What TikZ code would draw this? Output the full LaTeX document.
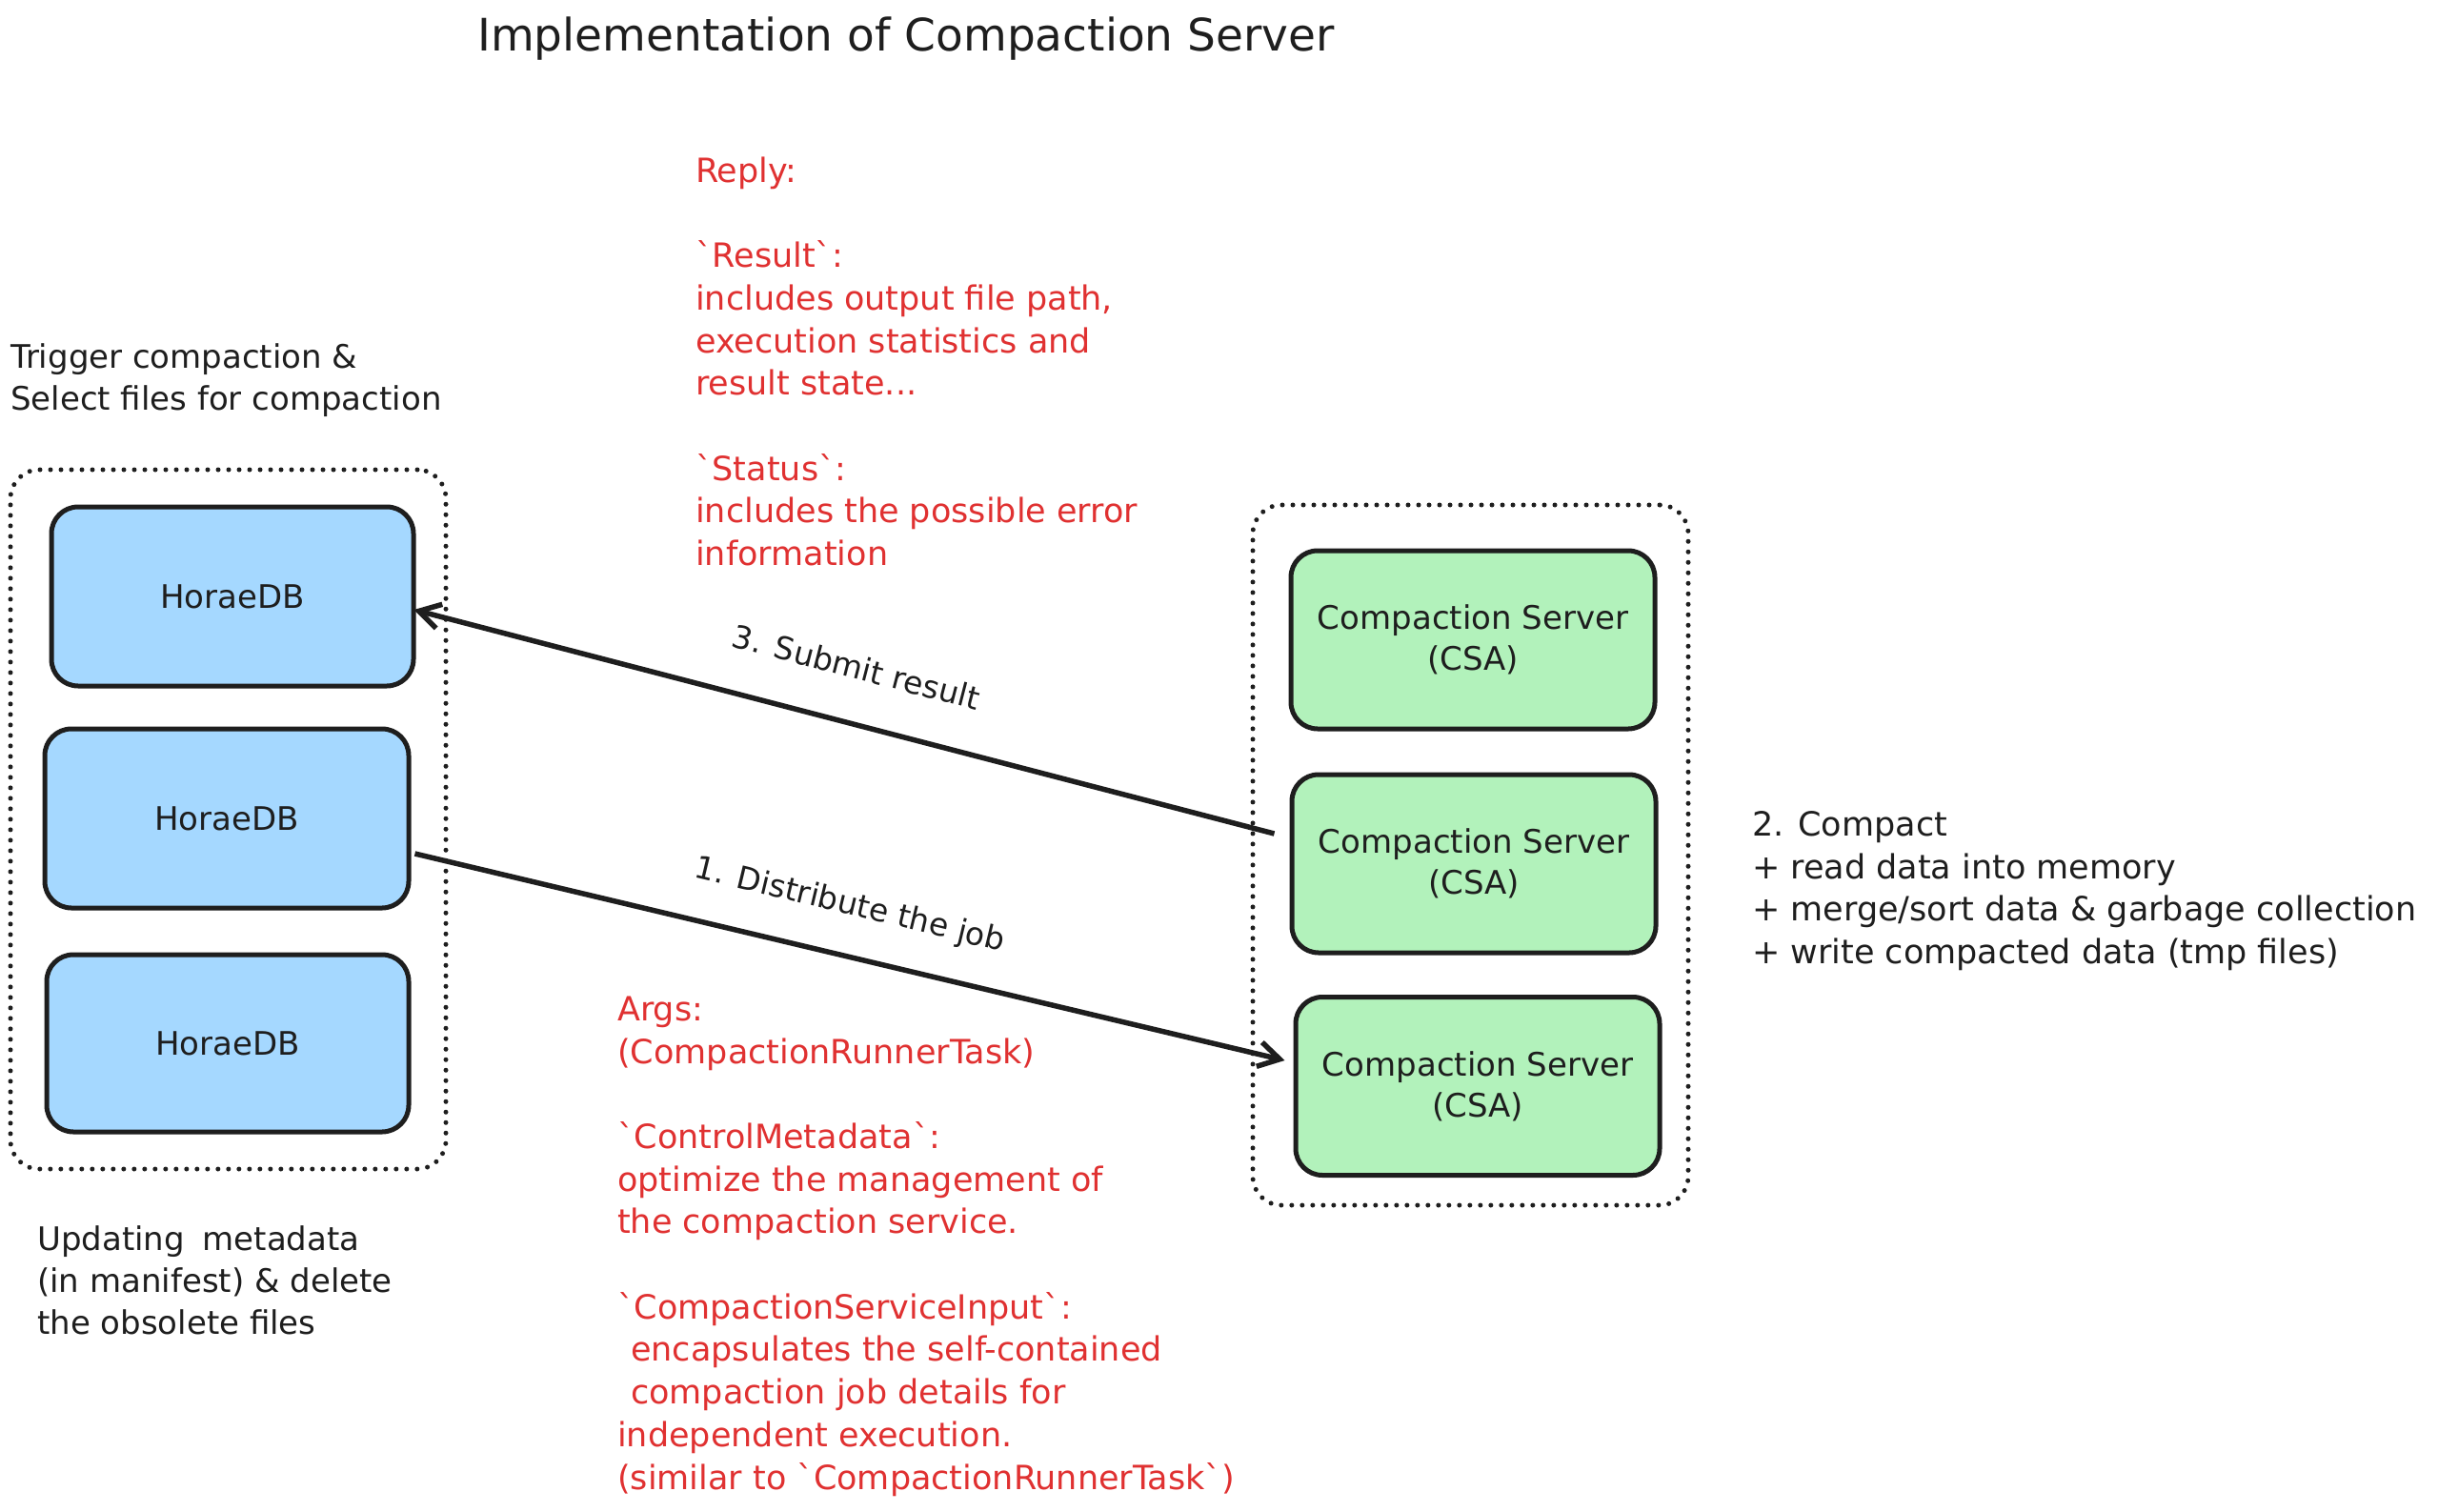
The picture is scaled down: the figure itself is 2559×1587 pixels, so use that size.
\documentclass[tikz,border=0pt]{standalone}
\usepackage{fontspec}
\setmainfont{DejaVu Sans}
\usetikzlibrary{arrows.meta}
\definecolor{ink}{HTML}{1E1E1E}
\definecolor{dbblue}{HTML}{A5D8FF}
\definecolor{csgreen}{HTML}{B2F2BB}
\definecolor{redtxt}{HTML}{E03131}
\begin{document}
\begin{tikzpicture}[x=1pt,y=-1pt,
  dbbox/.style={draw=ink, fill=dbblue, line width=5pt, rounded corners=28pt,
    minimum width=380pt, minimum height=188pt, inner sep=0pt,
    font=\fontsize{34}{44}\selectfont, text=ink},
  csbox/.style={draw=ink, fill=csgreen, line width=5pt, rounded corners=28pt,
    minimum width=382pt, minimum height=187pt, inner sep=0pt, align=center,
    font=\fontsize{34}{43}\selectfont, text=ink},
  group/.style={draw=ink, line width=5pt, dash pattern=on 0pt off 11pt,
    line cap=round, rounded corners=30pt, inner sep=0pt},
  note/.style={font=\fontsize{34}{44}\selectfont, text=ink, align=left,
    anchor=base west, inner sep=0pt},
  rednote/.style={font=\fontsize{35}{44.7}\selectfont, text=redtxt, align=left,
    anchor=base west, inner sep=0pt},
  flow/.style={draw=ink, line width=5.5pt, -{Straight Barb[length=22pt,width=26pt]}},
  lbl/.style={font=\fontsize{33}{40}\selectfont, text=ink, inner sep=0pt}]

\useasboundingbox (0,0) rectangle (2559,1587);
\fill[white] (0,0) rectangle (2559,1587);

% containers
\node[group, minimum width=457pt, minimum height=734pt] (leftgrp) at (239.5,860) {};
\node[group, minimum width=457pt, minimum height=735pt] (rightgrp) at (1543.5,897.5) {};

% HoraeDB boxes
\node[dbbox] (h1) at (244,626) {HoraeDB};
\node[dbbox, minimum width=382pt] (h2) at (238,859) {HoraeDB};
\node[dbbox, minimum height=186pt] (h3) at (239,1095) {HoraeDB};

% Compaction servers
\node[csbox] (c1) at (1546,671.5) {Compaction Server\\(CSA)};
\node[csbox] (c2) at (1547,906.5) {Compaction Server\\(CSA)};
\node[csbox] (c3) at (1551,1140) {Compaction Server\\(CSA)};

% arrows
\draw[flow] ([xshift=-16pt,yshift=31.5pt]c2.west) -- ([xshift=-2pt,yshift=-14pt]h1.east);
\draw[flow] ([xshift=4pt,yshift=-37pt]h2.east) -- ([xshift=-9pt,yshift=27pt]c3.west);

% arrow labels
\node[lbl, rotate=-14.5] (lsub) at (899,700) {3. Submit result};
\node[lbl, rotate=-13.5] (ldis) at (892,951) {1. Distribute the job};

% title
\node[font=\fontsize{47}{56}\selectfont, text=ink, inner sep=0pt] (title) at (951,41) {Implementation of Compaction Server};

% notes (anchored at the baseline of the last line)
\node[note] (trig) at (11,430) {Trigger compaction \&\\Select files for compaction};
\node[note] (upd) at (39,1400) {Updating\hspace{0.55em}metadata\\(in manifest) \& delete\\the obsolete files};
\node[note, font=\fontsize{35}{44.5}\selectfont] (compact) at (1839,1011) {2. Compact\\+ read data into memory\\+ merge/sort data \& garbage collection\\+ write compacted data (tmp files)};

\node[rednote] (reply) at (730,593.5) {Reply:\\[44.7pt]\textasciigrave Result\textasciigrave:\\includes output file path,\\execution statistics and\\result state...\\[44.7pt]\textasciigrave Status\textasciigrave:\\includes the possible error\\information};

\node[rednote] (args) at (648,1563) {Args:\\(CompactionRunnerTask)\\[44.7pt]\textasciigrave ControlMetadata\textasciigrave:\\optimize the management of\\the compaction service.\\[44.7pt]\textasciigrave CompactionServiceInput\textasciigrave:\\\hspace*{0.4em}encapsulates the self-contained\\\hspace*{0.4em}compaction job details for\\independent execution.\\(similar to \textasciigrave CompactionRunnerTask\textasciigrave)};
\end{tikzpicture}
\end{document}
